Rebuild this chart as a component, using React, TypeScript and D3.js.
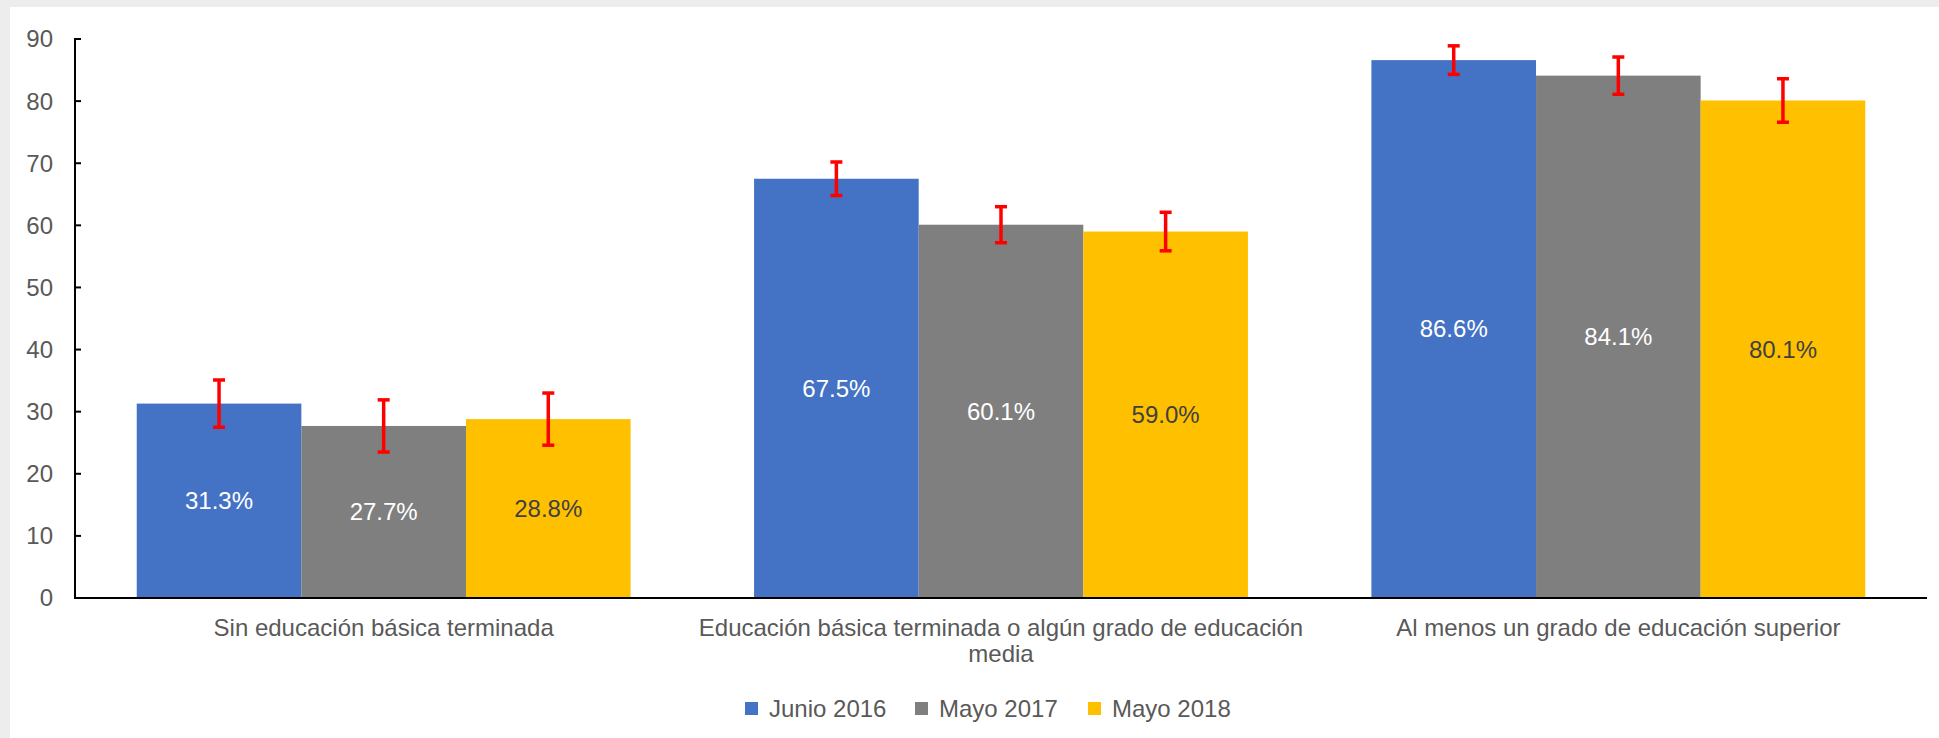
import React from "react";
import * as d3 from "d3";

const categories = [
  ["Sin educación básica terminada"],
  ["Educación básica terminada o algún grado de educación", "media"],
  ["Al menos un grado de educación superior"],
];
const seriesNames = ["Junio 2016", "Mayo 2017", "Mayo 2018"];
const seriesColors = ["#4472C4", "#7F7F7F", "#FFC000"];
const labelColors = ["#FFFFFF", "#FFFFFF", "#404040"];
const junio2016 = [31.3, 67.5, 86.6];
const mayo2017 = [27.7, 60.1, 84.1];
const mayo2018 = [28.8, 59.0, 80.1];
const errJunio2016 = [3.8, 2.7, 2.3];
const errMayo2017 = [4.2, 2.9, 3.0];
const errMayo2018 = [4.2, 3.1, 3.5];
const yTicks = [0, 10, 20, 30, 40, 50, 60, 70, 80, 90];

const values = [junio2016, mayo2017, mayo2018];
const errors = [errJunio2016, errMayo2017, errMayo2018];

const W = 1939;
const H = 738;
const FONT = "'Liberation Sans', Arial, sans-serif";
const FS = 24;

export default function App() {
  const x0 = d3.scaleBand<number>().domain([0, 1, 2]).range([75, 1927]).paddingInner(0.2).paddingOuter(0.1);
  const x1 = d3.scaleBand<number>().domain([0, 1, 2]).range([0, x0.bandwidth()]);
  const y = d3.scaleLinear().domain([0, 90]).range([598, 39]);

  const legendX = [745, 915, 1088];

  return (
    <svg width={W} height={H} style={{ position: "absolute", left: 0, top: 0 }} fontFamily={FONT}>
      <rect x={0} y={0} width={W} height={H} fill="#EDEDED" />
      <rect x={10} y={7} width={W - 10} height={H - 7} fill="#FFFFFF" />

      {/* bars */}
      {values.map((vals, s) =>
        vals.map((v, c) => {
          const bx = (x0(c) as number) + (x1(s) as number);
          const bw = x1.bandwidth();
          return (
            <g key={`b${s}-${c}`}>
              <rect x={bx} y={y(v)} width={bw} height={y(0) - y(v)} fill={seriesColors[s]} />
            </g>
          );
        })
      )}

      {/* value labels */}
      {values.map((vals, s) =>
        vals.map((v, c) => {
          const cx = (x0(c) as number) + (x1(s) as number) + x1.bandwidth() / 2;
          return (
            <text
              key={`l${s}-${c}`}
              x={cx}
              y={(y(v) + y(0)) / 2}
              dy="0.35em"
              textAnchor="middle"
              fontSize={FS}
              fill={labelColors[s]}
            >
              {v.toFixed(1)}%
            </text>
          );
        })
      )}

      {/* error bars */}
      {values.map((vals, s) =>
        vals.map((v, c) => {
          const cx = (x0(c) as number) + (x1(s) as number) + x1.bandwidth() / 2;
          const e = errors[s][c];
          const top = y(v + e);
          const bot = y(v - e);
          return (
            <g key={`e${s}-${c}`} stroke="#FF0000" strokeWidth={3.5}>
              <line x1={cx} x2={cx} y1={top} y2={bot} />
              <line x1={cx - 6} x2={cx + 6} y1={top} y2={top} />
              <line x1={cx - 6} x2={cx + 6} y1={bot} y2={bot} />
            </g>
          );
        })
      )}

      {/* y axis */}
      <line x1={75} x2={75} y1={y(90) - 1} y2={y(0)} stroke="#000" strokeWidth={2} />
      {yTicks.map((t) => (
        <g key={`t${t}`}>
          <line x1={75} x2={81} y1={y(t)} y2={y(t)} stroke="#000" strokeWidth={2} />
          <text x={53} y={y(t)} dy="0.35em" textAnchor="end" fontSize={FS} fill="#595959">
            {t}
          </text>
        </g>
      ))}
      {/* x axis */}
      <line x1={74} x2={1927} y1={y(0)} y2={y(0)} stroke="#000" strokeWidth={2} />

      {/* category labels */}
      {categories.map((lines, c) => {
        const cx = (x0(c) as number) + x0.bandwidth() / 2;
        return (
          <text key={`c${c}`} x={cx} y={628} textAnchor="middle" fontSize={FS} fill="#595959">
            {lines.map((ln, i) => (
              <tspan key={i} x={cx} dy={i === 0 ? "0.35em" : 26}>
                {ln}
              </tspan>
            ))}
          </text>
        );
      })}

      {/* legend */}
      {seriesNames.map((n, s) => (
        <g key={`lg${s}`}>
          <rect x={legendX[s]} y={702} width={13} height={13} fill={seriesColors[s]} />
          <text x={legendX[s] + 24} y={709} dy="0.35em" fontSize={FS} fill="#595959">
            {n}
          </text>
        </g>
      ))}
    </svg>
  );
}
